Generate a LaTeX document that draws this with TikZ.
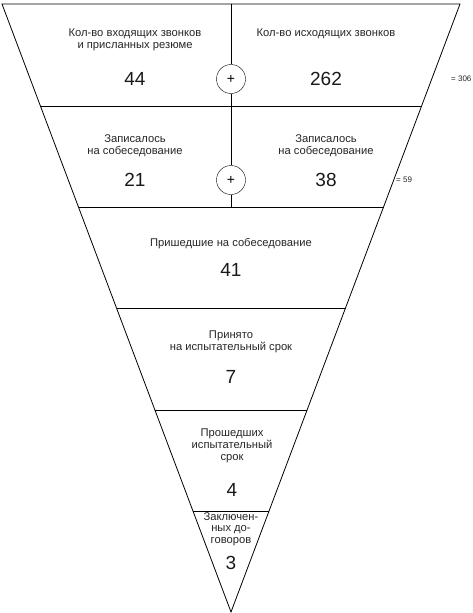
\documentclass[tikz,border=0pt]{standalone}
\usepackage{fontspec}
\setmainfont{Liberation Sans}
\begin{document}
\begin{tikzpicture}[x=1pt,y=-1pt,
  lbl/.style={align=center,inner sep=0pt,font=\fontsize{11.2}{12.3}\selectfont,text=black!85},
  num/.style={inner sep=0pt,font=\fontsize{19}{21}\selectfont,text=black!90},
  sumlbl/.style={inner sep=0pt,anchor=west,font=\fontsize{8}{10}\selectfont,text=black!85},
  plus/.style={draw,circle,minimum size=29pt,inner sep=0pt,font=\fontsize{14}{15}\selectfont},
  ln/.style={draw=black,line width=0.8pt}]
\useasboundingbox (0,0) rectangle (473,613);
% funnel outline
\coordinate (tl) at (2,4);
\coordinate (tr) at (460,4);
\coordinate (ap) at (231,612);
\draw[ln,line join=miter] (tl) -- (tr) -- (ap) -- cycle;
% horizontal dividers
\coordinate (l1) at (40.4,106);  \coordinate (r1) at (421.6,106);
\coordinate (l2) at (78.5,207);  \coordinate (r2) at (383.5,207);
\coordinate (l3) at (116.5,308); \coordinate (r3) at (345.5,308);
\coordinate (l4) at (154.9,410); \coordinate (r4) at (307.1,410);
\coordinate (l5) at (193.0,511); \coordinate (r5) at (269.0,511);
\draw[ln] (l1) -- (r1);
\draw[ln] (l2) -- (r2);
\draw[ln] (l3) -- (r3);
\draw[ln] (l4) -- (r4);
\draw[ln] (l5) -- (r5);
% plus circles and vertical divider
\node[plus] (p1) at (231,79) {+};
\node[plus] (p2) at (231,180) {+};
\coordinate (vtop) at (231,4);
\coordinate (vbot) at (231,207);
\draw[ln] (vtop) -- (p1.north);
\draw[ln] (p1.south) -- (p2.north);
\draw[ln] (p2.south) -- (vbot);
% row 1
\node[lbl] (t1a) at (135,40) {Кол-во входящих звонков\\и присланных резюме};
\node[num] (n1a) at (135,79) {44};
\node[lbl] (t1b) at (326,34) {Кол-во исходящих звонков};
\node[num] (n1b) at (326,79) {262};
\node[sumlbl] (s1) at (451,79) {= 306};
% row 2
\node[lbl] (t2a) at (135,146) {Записалось\\на собеседование};
\node[num] (n2a) at (135,180) {21};
\node[lbl] (t2b) at (326,146) {Записалось\\на собеседование};
\node[num] (n2b) at (326,180) {38};
\node[sumlbl] (s2) at (396,180) {= 59};
% row 3
\node[lbl] (t3) at (231,244) {Пришедшие на собеседование};
\node[num] (n3) at (231,270) {41};
% row 4
\node[lbl] (t4) at (231,342) {Принято\\на испытательный срок};
\node[num] (n4) at (231,377) {7};
% row 5
\node[lbl] (t5) at (232,446) {Прошедших\\испытательный\\срок};
\node[num] (n5) at (232,490) {4};
% row 6
\node[lbl,font=\fontsize{11.2}{11.6}\selectfont] (t6) at (231,529) {Заключен-\\ных до-\\говоров};
\node[num] (n6) at (231,563) {3};
\end{tikzpicture}
\end{document}
